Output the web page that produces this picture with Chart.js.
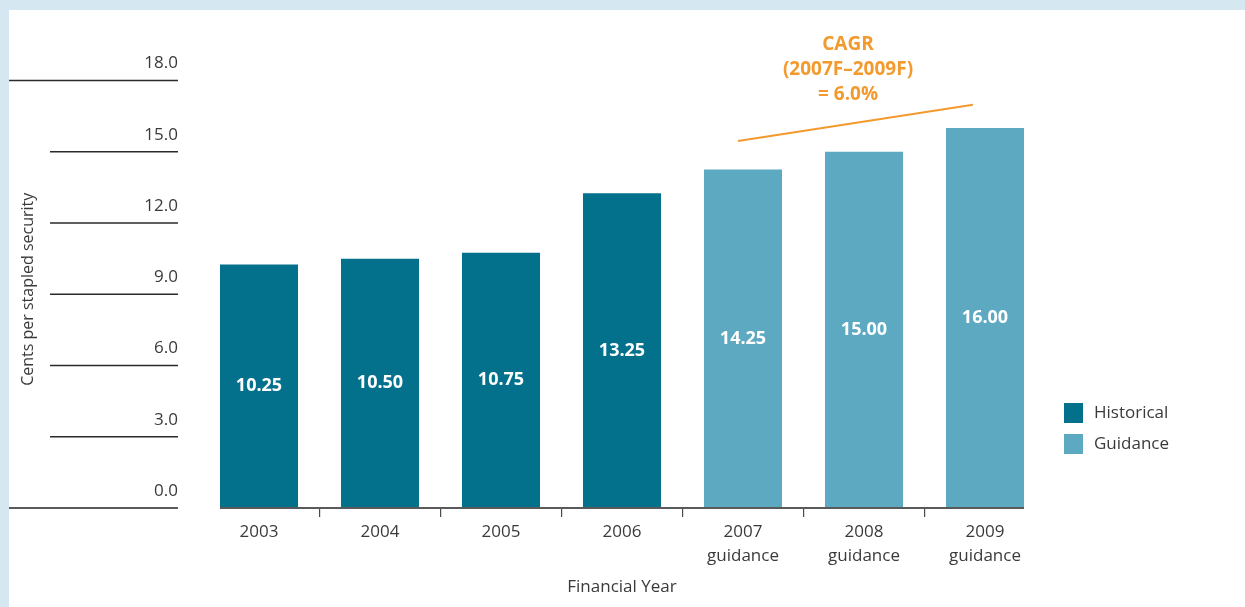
<!DOCTYPE html>
<html>
<head>
<meta charset="utf-8">
<title>Distributions per stapled security</title>
<script src="https://cdn.jsdelivr.net/npm/chart.js@4.4.0/dist/chart.umd.min.js"></script>
<style>
    html, body { margin: 0; padding: 0; background: #fff; }
    .frame {
        width: 1236px;
        height: 597px;
        border-left: 9px solid #d5e7f1;
        border-top: 10px solid #d5e7f1;
        background: #fff;
    }
    canvas { display: block; }
</style>
</head>
<body>
<div class="frame"><canvas id="distChart" width="1236" height="597"></canvas></div>
<script>
// Financial years and distribution values (cents per stapled security)
const categories = ['2003', '2004', '2005', '2006', ['2007', 'guidance'], ['2008', 'guidance'], ['2009', 'guidance']];
const historicalValues = [10.25, 10.50, 10.75, 13.25, null, null, null];
const guidanceValues = [null, null, null, null, 14.25, 15.00, 16.00];

// Value axis
const yTicks = [0, 3, 6, 9, 12, 15, 18];
const yTickLabels = ['0.0', '3.0', '6.0', '9.0', '12.0', '15.0', '18.0'];

// Growth callout
const cagrLines = ['CAGR', '(2007F\u20132009F)', '= 6.0%'];

const FONT = '"Open Sans", "DejaVu Sans", sans-serif';
const TEXT = '#3a3a3a';
const ORANGE = '#f39a2e';

// Left-hand axis: short rules with the value sitting above each one
const yAxisRules = {
    id: 'yAxisRules',
    afterDraw(chart) {
        const { ctx, chartArea } = chart;
        const y = chart.scales.y;
        const end = chartArea.left - 20.5;
        ctx.save();
        ctx.font = `17px ${FONT}`;
        ctx.fillStyle = TEXT;
        ctx.textAlign = 'right';
        ctx.textBaseline = 'middle';
        yTicks.forEach((v, i) => {
            const py = y.getPixelForValue(v);
            const full = i === 0 || i === yTicks.length - 1;
            ctx.strokeStyle = v === 0 ? '#5a5a5a' : '#2a2a2a';
            ctx.lineWidth = v === 0 ? 2 : 1.4;
            ctx.beginPath();
            ctx.moveTo(full ? 0 : 41, py);
            ctx.lineTo(end, py);
            ctx.stroke();
            ctx.fillText(yTickLabels[i], end, py - 17);
        });

        // axis title
        ctx.font = `16px ${FONT}`;
        ctx.textAlign = 'center';
        ctx.translate(19, (chartArea.top + chartArea.bottom) / 2 - 5);
        ctx.rotate(-Math.PI / 2);
        ctx.fillText('Cents per stapled security', 0, 0);
        ctx.restore();
    }
};

// Baseline under the bars, running from the first bar to the last
const baseline = {
    id: 'baseline',
    afterDatasetsDraw(chart) {
        const { ctx } = chart;
        const first = chart.getDatasetMeta(0).data[0];
        const lastMeta = chart.getDatasetMeta(1).data;
        const last = lastMeta[lastMeta.length - 1];
        const py = chart.scales.y.getPixelForValue(0);
        ctx.save();
        ctx.strokeStyle = '#5a5a5a';
        ctx.lineWidth = 2;
        ctx.beginPath();
        ctx.moveTo(first.x - first.width / 2, py);
        ctx.lineTo(last.x + last.width / 2, py);
        ctx.stroke();
        ctx.restore();
    }
};

// White value labels in the middle of each bar
const barValues = {
    id: 'barValues',
    afterDatasetsDraw(chart) {
        const { ctx } = chart;
        ctx.save();
        ctx.font = `bold 18px ${FONT}`;
        ctx.fillStyle = '#ffffff';
        ctx.textAlign = 'center';
        ctx.textBaseline = 'middle';
        chart.data.datasets.forEach((ds, di) => {
            chart.getDatasetMeta(di).data.forEach((bar, i) => {
                const v = ds.data[i];
                if (v === null) return;
                const c = bar.getCenterPoint();
                ctx.fillText(v.toFixed(2), c.x, c.y);
            });
        });
        ctx.restore();
    }
};

// CAGR note and trend stroke above the guidance bars
const cagrNote = {
    id: 'cagrNote',
    afterDraw(chart) {
        const { ctx } = chart;
        const x = chart.scales.x;
        const y = chart.scales.y;
        ctx.save();
        ctx.strokeStyle = ORANGE;
        ctx.lineWidth = 2;
        ctx.beginPath();
        ctx.moveTo(x.getPixelForValue(4) - 5, y.getPixelForValue(15.45));
        ctx.lineTo(x.getPixelForValue(6) - 12, y.getPixelForValue(16.98));
        ctx.stroke();

        ctx.font = `bold 19px ${FONT}`;
        ctx.fillStyle = ORANGE;
        ctx.textAlign = 'center';
        ctx.textBaseline = 'middle';
        const cx = x.getPixelForValue(5) - 16;
        cagrLines.forEach((line, i) => ctx.fillText(line, cx, 35 + i * 25));
        ctx.restore();
    }
};

// Legend at the lower right
const sideLegend = {
    id: 'sideLegend',
    afterDraw(chart) {
        const { ctx, chartArea } = chart;
        const left = chartArea.right + 18.5;
        ctx.save();
        ctx.font = `17px ${FONT}`;
        ctx.textAlign = 'left';
        ctx.textBaseline = 'middle';
        chart.data.datasets.forEach((ds, i) => {
            const top = chartArea.bottom - 105 + i * 31;
            ctx.fillStyle = ds.backgroundColor;
            ctx.fillRect(left, top, 19, 20);
            ctx.fillStyle = TEXT;
            ctx.fillText(ds.label, left + 30, top + 10);
        });
        ctx.restore();
    }
};

new Chart(document.getElementById('distChart'), {
    type: 'bar',
    data: {
        labels: categories,
        datasets: [
            { label: 'Historical', data: historicalValues, backgroundColor: '#04718c' },
            { label: 'Guidance', data: guidanceValues, backgroundColor: '#5da9c1' }
        ]
    },
    options: {
        responsive: false,
        animation: false,
        layout: { padding: { left: 189.5, right: 199.5, top: 70.5, bottom: 0 } },
        datasets: {
            bar: { grouped: false, categoryPercentage: 1, barPercentage: 0.645, borderWidth: 0 }
        },
        plugins: {
            legend: { display: false },
            tooltip: { enabled: false }
        },
        scales: {
            x: {
                offset: true,
                border: { display: false },
                grid: {
                    offset: true,
                    drawOnChartArea: false,
                    drawTicks: true,
                    tickLength: 9,
                    lineWidth: 1.2,
                    tickColor: ctx => ctx.index > 0 ? '#4a4a4a' : 'rgba(0,0,0,0)'
                },
                ticks: {
                    color: TEXT,
                    padding: 3,
                    maxRotation: 0,
                    autoSkip: false,
                    font: { family: FONT, size: 17, lineHeight: 1.4 }
                },
                title: {
                    display: true,
                    text: 'Financial Year',
                    color: TEXT,
                    font: { family: FONT, size: 17 },
                    padding: { top: 0, bottom: 10 }
                },
                afterFit: scale => { scale.height = 99; }
            },
            y: { display: false, min: 0, max: 18 }
        }
    },
    plugins: [yAxisRules, baseline, barValues, cagrNote, sideLegend]
});
</script>
</body>
</html>
